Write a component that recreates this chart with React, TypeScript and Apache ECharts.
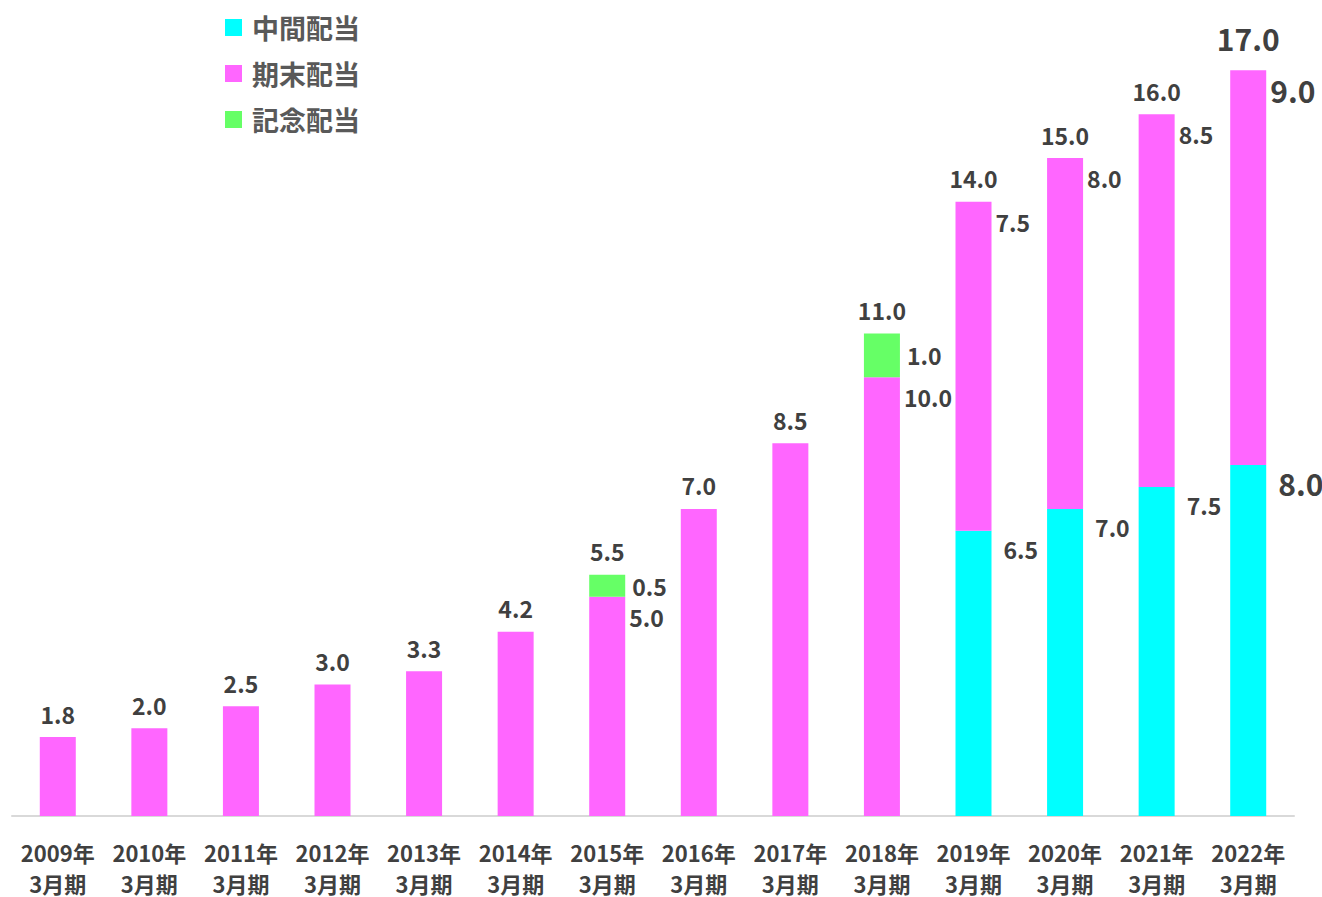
import React, { useEffect, useRef } from "react";
import * as echarts from "echarts";

const categories = [
  "2009年\n3月期", "2010年\n3月期", "2011年\n3月期", "2012年\n3月期", "2013年\n3月期",
  "2014年\n3月期", "2015年\n3月期", "2016年\n3月期", "2017年\n3月期", "2018年\n3月期",
  "2019年\n3月期", "2020年\n3月期", "2021年\n3月期", "2022年\n3月期",
];
const interim = [0, 0, 0, 0, 0, 0, 0, 0, 0, 0, 6.5, 7.0, 7.5, 8.0];
const yearEnd = [1.8, 2.0, 2.5, 3.0, 3.3, 4.2, 5.0, 7.0, 8.5, 10.0, 7.5, 8.0, 8.5, 9.0];
const commemorative = [0, 0, 0, 0, 0, 0, 0.5, 0, 0, 1.0, 0, 0, 0, 0];
const totals = [1.8, 2.0, 2.5, 3.0, 3.3, 4.2, 5.5, 7.0, 8.5, 11.0, 14.0, 15.0, 16.0, 17.0];
const seriesNames = ["中間配当", "期末配当", "記念配当"];

const FONT = "'Noto Sans CJK JP', sans-serif";
const TEXT = "#404040";
const LAST = categories.length - 1;

export default function App() {
  const ref = useRef<HTMLDivElement>(null);
  useEffect(() => {
    if (!ref.current) return;
    const chart = echarts.init(ref.current, null, { renderer: "svg" });
    const big = (i: number) => (i === LAST ? 30 : 23);

    const segLabel = (show: boolean, i: number, dx: number, dy: number | string) => ({
      show,
      position: ["100%", dy],
      align: "left",
      verticalAlign: "middle",
      offset: [dx, 0],
      color: TEXT,
      fontFamily: FONT,
      fontWeight: "bold",
      fontSize: big(i),
      formatter: (p: any) => Number(p.value).toFixed(1),
    });

    const hasExtra = (i: number) => interim[i] > 0 || commemorative[i] > 0;

    chart.setOption({
      animation: false,
      grid: { left: 12, right: 28, top: 26.4, bottom: 81, containLabel: false, outerBoundsMode: "none" },
      legend: {
        data: seriesNames,
        orient: "vertical",
        left: 225,
        top: 14,
        padding: 0,
        icon: "rect",
        itemWidth: 17,
        itemHeight: 17,
        itemGap: 19,
        textStyle: { color: "#595959", fontSize: 27, fontWeight: "bold", fontFamily: FONT, padding: [0, 0, 0, 5] },
      },
      xAxis: {
        type: "category",
        data: categories,
        axisLine: { lineStyle: { color: "#D9D9D9", width: 2 } },
        axisTick: { show: false },
        axisLabel: {
          color: TEXT,
          fontFamily: FONT,
          fontWeight: "bold",
          fontSize: 22,
          lineHeight: 31,
          margin: 20,
          interval: 0,
        },
      },
      yAxis: { type: "value", min: 0, max: 18, show: false, splitLine: { show: false } },
      series: [
        {
          name: seriesNames[0],
          type: "bar",
          stack: "a",
          barWidth: 36,
          itemStyle: { color: "#00FFFF" },
          data: interim.map((v, i) => ({ value: v, label: segLabel(v > 0, i, 12, 18) })),
        },
        {
          name: seriesNames[1],
          type: "bar",
          stack: "a",
          barWidth: 36,
          itemStyle: { color: "#FF66FF" },
          data: yearEnd.map((v, i) => ({ value: v, label: segLabel(hasExtra(i), i, 4, 20) })),
        },
        {
          name: seriesNames[2],
          type: "bar",
          stack: "a",
          barWidth: 36,
          itemStyle: { color: "#66FF66" },
          data: commemorative.map((v, i) => ({ value: v, label: segLabel(v > 0, i, 7, "50%") })),
        },
        {
          name: "合計",
          type: "bar",
          stack: "a",
          barWidth: 36,
          itemStyle: { color: "transparent" },
          data: totals.map((t, i) => ({
            value: 0,
            label: {
              show: true,
              position: "top",
              distance: i === LAST ? 17 : 12,
              color: TEXT,
              fontFamily: FONT,
              fontWeight: "bold",
              fontSize: big(i),
              formatter: () => t.toFixed(1),
            },
          })),
        },
      ],
    });
    return () => chart.dispose();
  }, []);

  return (
    <div
      ref={ref}
      style={{ position: "absolute", left: 0, top: 0, width: 1322, height: 897, background: "#fff" }}
    />
  );
}
